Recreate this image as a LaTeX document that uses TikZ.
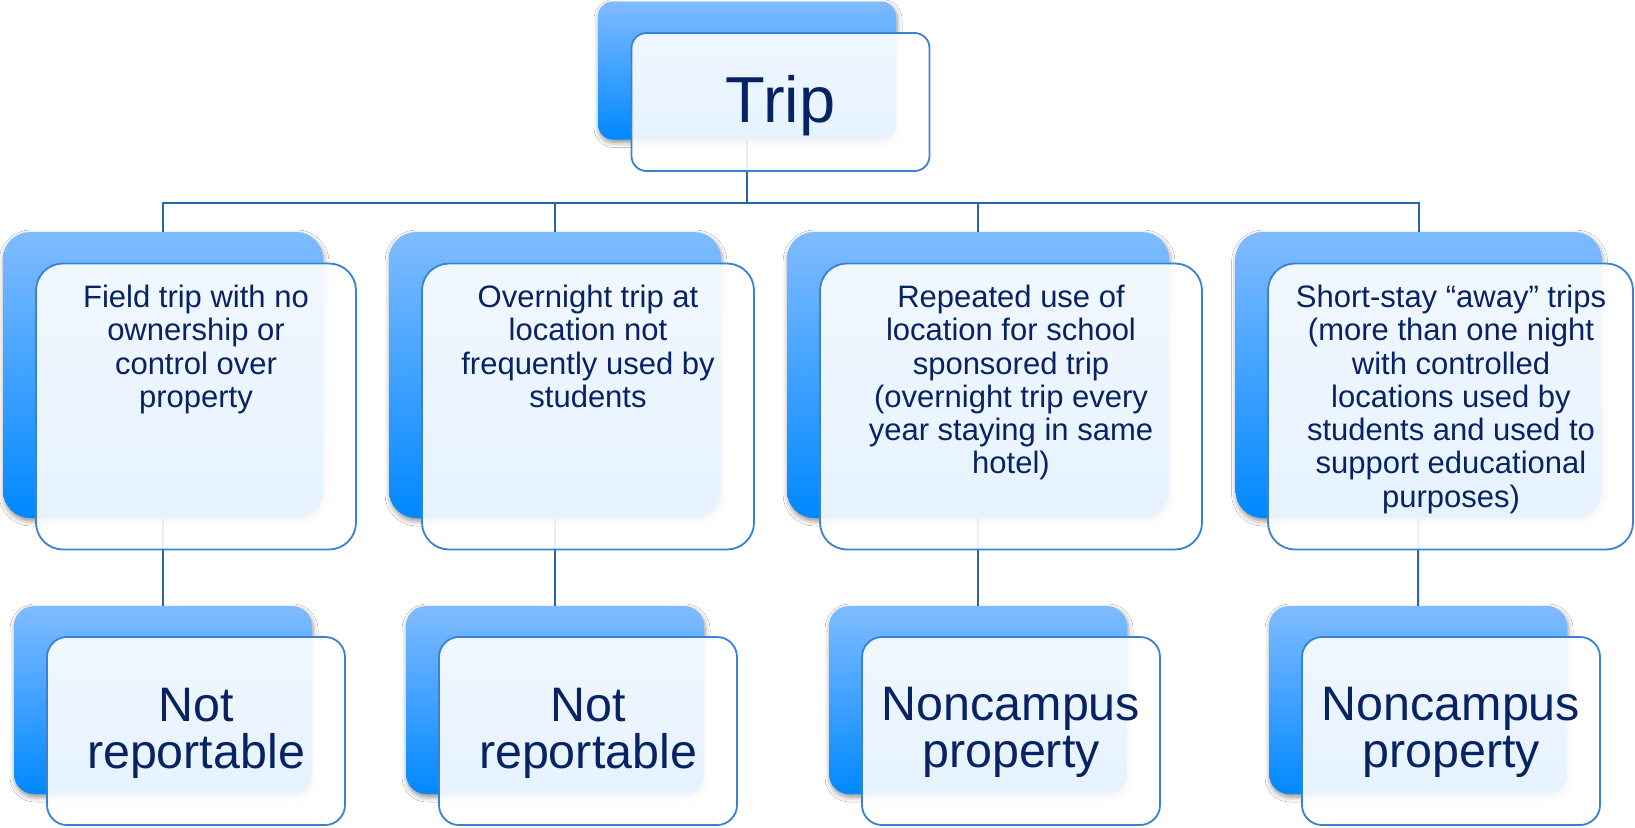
\documentclass[tikz,border=0pt]{standalone}
\usepackage{fontspec}
\setmainfont{Liberation Sans}
\usetikzlibrary{shadows.blur}
\definecolor{backtop}{RGB}{128,187,255}
\definecolor{backbot}{RGB}{0,136,255}
\definecolor{frontborder}{RGB}{55,130,215}
\definecolor{connc}{RGB}{40,100,175}
\definecolor{textc}{RGB}{8,35,100}
\pgfdeclarelayer{bg}
\pgfsetlayers{bg,main}
\begin{document}
\begin{tikzpicture}[x=1pt,y=-1pt,
  backbox/.style={rectangle, inner sep=0pt, outer sep=0pt, draw=none,
    top color=backtop, bottom color=backbot,
    blur shadow={shadow xshift=1pt, shadow yshift=-3pt, shadow blur radius=5pt, shadow opacity=45}},
  frontbox/.style={rectangle, inner sep=0pt, outer sep=0pt, fill=white, fill opacity=0.9,
    draw=frontborder, draw opacity=1, line width=1.8pt},
  topsz/.style={minimum width=298pt, minimum height=138pt, rounded corners=15pt},
  midsz/.style={minimum height=286pt, rounded corners=27pt},
  lowsz/.style={minimum width=298pt, minimum height=188pt, rounded corners=20pt},
  conn/.style={draw=connc, line width=2pt},
  ttext/.style={inner sep=0pt, outer sep=0pt, text=textc, align=center, anchor=north, font=\fontsize{65}{70}\selectfont},
  mtext/.style={inner sep=0pt, outer sep=0pt, text=textc, align=center, anchor=north, font=\fontsize{31}{33.3}\selectfont},
  ltext/.style={inner sep=0pt, outer sep=0pt, text=textc, align=center, anchor=north, font=\fontsize{48.4}{47.3}\selectfont}
]
\useasboundingbox (0,0) rectangle (1635,827);

% Trip
\node[backbox, topsz] (tb) at (747,70.5) {};
\node[frontbox, topsz] (tf) at (780.5,102) {};
\node[ttext] (tt) at (780.5,75) {Trip};

% level 2
\node[backbox, midsz, minimum width=320pt] (b1) at (163,375) {};
\node[frontbox, midsz, minimum width=320pt] (f1) at (196,406.5) {};
\node[mtext] (m1) at (196,285) {Field trip with no\\ownership or\\control over\\property};

\node[backbox, midsz, minimum width=332pt] (b2) at (555,375) {};
\node[frontbox, midsz, minimum width=332pt] (f2) at (588,406.5) {};
\node[mtext] (m2) at (588,285) {Overnight trip at\\location not\\frequently used by\\students};

\node[backbox, midsz, minimum width=382pt] (b3) at (978,375) {};
\node[frontbox, midsz, minimum width=382pt] (f3) at (1011,406.5) {};
\node[mtext] (m3) at (1011,285) {Repeated use of\\location for school\\sponsored trip\\(overnight trip every\\year staying in same\\hotel)};

\node[backbox, midsz, minimum width=366pt] (b4) at (1418.5,375) {};
\node[frontbox, midsz, minimum width=365pt] (f4) at (1450.5,406.5) {};
\node[mtext] (m4) at (1451,285) {Short-stay “away” trips\\(more than one night\\with controlled\\locations used by\\students and used to\\support educational\\purposes)};

% level 3
\node[backbox, lowsz] (c1) at (163,700) {};
\node[frontbox, lowsz] (g1) at (196,731) {};
\node[ltext] (l1) at (196,688) {Not\\reportable};

\node[backbox, lowsz] (c2) at (555,700) {};
\node[frontbox, lowsz] (g2) at (588,731) {};
\node[ltext] (l2) at (588,688) {Not\\reportable};

\node[backbox, lowsz] (c3) at (978,700) {};
\node[frontbox, lowsz] (g3) at (1011,731) {};
\node[ltext] (l3) at (1011,687) {Noncampus\\property};

\node[backbox, lowsz] (c4) at (1418,700) {};
\node[frontbox, lowsz] (g4) at (1451,731) {};
\node[ltext] (l4) at (1451,687) {Noncampus\\property};

% background and connectors
\begin{pgfonlayer}{bg}
\fill[white] (0,0) rectangle (1635,827);
\coordinate (bus) at (0,203);
\foreach \n in {b1,b2,b3,b4} \draw[conn] (tb.center) -- (tb.center |- bus) -| (\n.center);
\foreach \a/\b in {b1/c1,b2/c2,b3/c3,b4/c4} \draw[conn] (\a.center) -- (\b.center);
\end{pgfonlayer}
\end{tikzpicture}
\end{document}
